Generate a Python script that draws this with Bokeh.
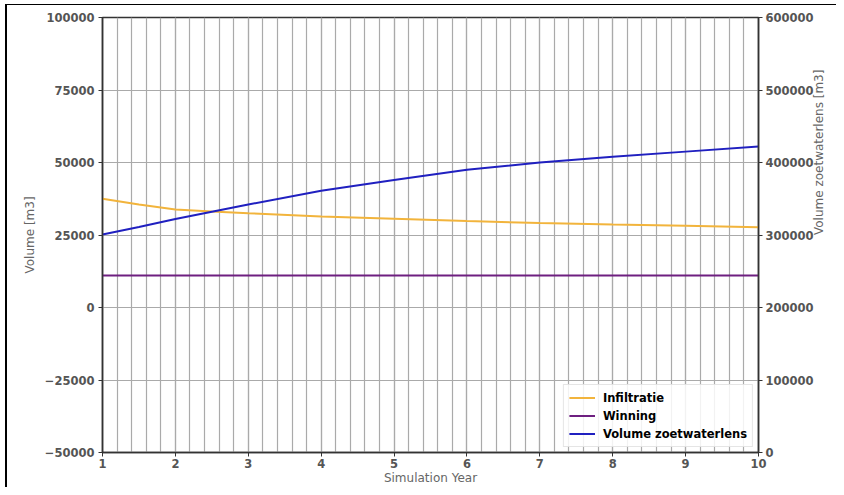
import math
from bokeh.plotting import figure
from bokeh.models import (Range1d, LinearAxis, FixedTicker, CustomJSTickFormatter,
                          Legend, LegendItem)
from bokeh.embed import file_html
from bokeh.resources import INLINE

# ---- data ----
years = [1, 1.5, 2, 2.5, 3, 4, 5, 6, 7, 8, 9, 10]
infiltratie = [37500, 35500, 33800, 33100, 32500, 31400, 30600, 29800, 29100, 28600, 28200, 27700]
winning = [11000, 11000, 11000, 11000, 11000, 11000, 11000, 11000, 11000, 11000, 11000, 11000]
volume_zoetwaterlens = [300700, 311000, 322000, 332000, 342000, 361000, 376000, 390000,
                        400000, 408000, 415000, 422000]

x_ticks = [1, 2, 3, 4, 5, 6, 7, 8, 9, 10]
x_minor = [1 + 0.2 * i for i in range(46)]
left_ticks = [-50000, -25000, 0, 25000, 50000, 75000, 100000]
right_ticks = [0, 100000, 200000, 300000, 400000, 500000, 600000]

FONT = "DejaVu Sans"
TICK_COLOR = "#555555"
LABEL_COLOR = "#666666"

p = figure(width=836, height=487, output_backend="svg", toolbar_location=None,
           x_range=Range1d(1, 10), y_range=Range1d(-50000, 100000),
           min_border_left=102, min_border_right=78, min_border_top=17, min_border_bottom=35)
p.extra_y_ranges = {"vol": Range1d(0, 600000)}
p.background_fill_color = "white"
p.border_fill_color = "white"
p.border_fill_alpha = 0.0
p.outline_line_color = "#333333"
p.outline_line_width = 1.5

fmt = CustomJSTickFormatter(code="return tick < 0 ? '\u2212' + Math.abs(tick).toFixed(0) : tick.toFixed(0);")

p.xaxis.ticker = FixedTicker(ticks=x_ticks, minor_ticks=x_minor)
p.yaxis.ticker = FixedTicker(ticks=left_ticks)
p.yaxis.formatter = fmt
p.xaxis.axis_label = "Simulation Year"
p.yaxis.axis_label = "Volume [m3]"

right = LinearAxis(y_range_name="vol", ticker=FixedTicker(ticks=right_ticks), formatter=fmt,
                   axis_label="Volume zoetwaterlens [m3]")
p.add_layout(right, "right")

for ax in [p.xaxis[0], p.yaxis[0], right]:
    ax.major_label_text_font = FONT
    ax.major_label_text_font_size = "11.5px"
    ax.major_label_text_font_style = "bold"
    ax.major_label_text_color = TICK_COLOR
    ax.axis_label_text_font = FONT
    ax.axis_label_text_font_size = "12px"
    ax.axis_label_text_font_style = "normal"
    ax.axis_label_text_color = LABEL_COLOR
    ax.axis_line_color = "#333333"
    ax.axis_line_width = 1.5
    ax.major_tick_line_color = "#333333"
    ax.major_tick_in = 0
    ax.major_tick_out = 4
    ax.minor_tick_line_color = None
    ax.major_label_standoff = 4
    ax.axis_label_standoff = 5

p.xaxis.major_label_standoff = 2
p.xaxis.axis_label_standoff = 0
right.major_label_standoff = 3
right.axis_label_standoff = 2
if hasattr(right, "axis_label_orientation"):
    right.axis_label_orientation = math.pi / 2

p.xgrid.ticker = FixedTicker(ticks=x_ticks, minor_ticks=x_minor)
p.xgrid.grid_line_color = "#aaaaaa"
p.xgrid.grid_line_width = 1.2
p.xgrid.minor_grid_line_color = "#aaaaaa"
p.xgrid.minor_grid_line_width = 1.2
p.ygrid.grid_line_color = "#aaaaaa"
p.ygrid.grid_line_width = 1.2

r1 = p.line(years, infiltratie, line_color="#f2b43c", line_width=2)
r2 = p.line(years, winning, line_color="#6e1f80", line_width=2)
r3 = p.line(years, volume_zoetwaterlens, line_color="#2020c0", line_width=2, y_range_name="vol")

legend = Legend(items=[LegendItem(label="Infiltratie", renderers=[r1]),
                       LegendItem(label="Winning", renderers=[r2]),
                       LegendItem(label="Volume zoetwaterlens", renderers=[r3])],
                location="bottom_right")
legend.margin = 5
legend.padding = 5
legend.spacing = 3
legend.glyph_width = 26
legend.glyph_height = 15
legend.label_height = 15
legend.label_standoff = 8
legend.label_text_font = FONT
legend.label_text_font_size = "11.5px"
legend.label_text_font_style = "bold"
legend.label_text_color = "black"
legend.border_line_color = "#cccccc"
legend.background_fill_color = "white"
legend.background_fill_alpha = 0.85
p.add_layout(legend, "center")

# thin black frame (left and top) like the reference image border
p.styles = {"background-color": "white",
            "box-shadow": "inset 5px 4px 0 0 white, inset 7px 5px 0 0 black"}

open("out.html", "w").write(file_html(p, INLINE))
